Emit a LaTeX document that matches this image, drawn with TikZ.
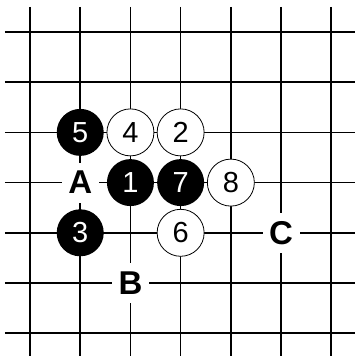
\documentclass[tikz,border=0pt]{standalone}
\usepackage{fontspec}
\setmainfont{Liberation Sans}
\begin{document}
\begin{tikzpicture}[
    x=50.2pt, y=-50.2pt,
    gridline/.style={line width=1.6pt},
    stone/.style={circle, inner sep=0pt, minimum size=47pt,
        font=\fontsize{29}{29}\selectfont},
    blackstone/.style={stone, fill=black, text=white},
    whitestone/.style={stone, draw=black, line width=0.8pt, fill=white},
    pointlabel/.style={fill=white, inner sep=0pt, minimum width=37pt,
        minimum height=40pt, font=\bfseries\fontsize{33}{33}\selectfont},
]
\useasboundingbox (-0.598,-0.637) rectangle (6.454,6.454);

% board
\foreach \i in {0,...,6} {
    \draw[gridline] (\i,-0.5) -- (\i,6.5);
    \draw[gridline] (-0.5,\i) -- (6.5,\i);
}

% stones
\node[blackstone] (s1) at (2,3) {1};
\node[whitestone] (s2) at (3,2) {2};
\node[blackstone] (s3) at (1,4) {3};
\node[whitestone] (s4) at (2,2) {4};
\node[blackstone] (s5) at (1,2) {5};
\node[whitestone] (s6) at (3,4) {6};
\node[blackstone] (s7) at (3,3) {7};
\node[whitestone] (s8) at (4,3) {8};

% marked points
\node[pointlabel] (pA) at (1,3) {A};
\node[pointlabel] (pB) at (2,5) {B};
\node[pointlabel] (pC) at (5,4) {C};

\end{tikzpicture}
\end{document}
